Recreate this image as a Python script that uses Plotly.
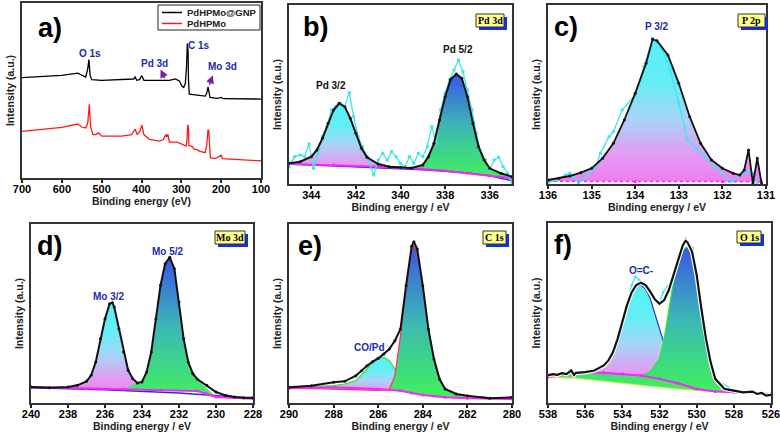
import plotly.graph_objects as go

W, H = 780, 437

# ---------------- a) survey spectra ----------------
survey_be_gnp = [700, 650, 600, 560, 550, 540, 535, 532, 529, 525, 500, 450, 420, 416, 412, 405, 399, 394,
                 360, 330, 315, 305, 298, 294, 290, 287, 285, 283, 282, 280, 260, 240, 236, 233, 230, 228,
                 210, 200, 195, 150, 100]
survey_gnp = [305, 309, 312, 319, 312, 307, 332, 360, 312, 299, 297, 299, 301, 307, 297, 299, 311, 297,
              297, 297, 301, 295, 279, 275, 287, 337, 409, 387, 297, 255, 252, 249, 259, 277, 257, 245,
              242, 245, 241, 241, 240]
survey_be_pd = [700, 650, 600, 560, 550, 540, 535, 531, 528, 522, 515, 508, 500, 450, 425, 416, 411, 404,
                399, 394, 380, 355, 345, 339, 337, 334, 330, 310, 295, 288, 286, 284, 282, 281, 272, 268,
                262, 255, 240, 236, 233, 231, 229, 227, 215, 200, 197, 150, 100]
survey_pd = [142, 147, 154, 164, 155, 152, 167, 224, 157, 132, 132, 137, 127, 127, 132, 149, 132, 142,
             161, 132, 117, 112, 117, 132, 125, 133, 109, 109, 102, 97, 112, 162, 152, 99, 95, 87,
             87, 82, 77, 102, 147, 142, 97, 62, 59, 69, 59, 55, 52]
legend_names = ['PdHPMo@GNP', 'PdHPMo']

# ---------------- b) Pd 3d ----------------
pd_be_raw = [345.0, 344.75, 344.5, 344.3, 344.1, 343.9, 343.7, 343.5, 343.3, 343.1, 342.9, 342.7, 342.5,
             342.3, 342.1, 341.9, 341.7, 341.5, 341.2, 341.0, 340.8, 340.6, 340.4, 340.2, 340.0, 339.8,
             339.6, 339.4, 339.2, 339.0, 338.8, 338.6, 338.4, 338.2, 338.0, 337.8, 337.6, 337.4, 337.2,
             337.0, 336.8, 336.6, 336.4, 336.2, 336.0, 335.8, 335.6, 335.4, 335.2, 335.0]
pd_raw = [52, 82, 87, 82, 120, 47, 92, 142, 172, 222, 232, 242, 232, 274, 202, 142, 112, 82, 27, 72, 92,
          72, 97, 82, 62, 52, 82, 62, 92, 82, 112, 172, 122, 222, 272, 312, 342, 372, 337, 282, 222, 152,
          92, 72, 42, 72, 80, 52, 32, 2]
pd_be_env = [345.0, 344.5, 344.0, 343.75, 343.5, 343.25, 343.0, 342.75, 342.5, 342.25, 342.0, 341.75,
             341.5, 341.0, 340.5, 340.0, 339.5, 339.0, 338.75, 338.5, 338.25, 338.0, 337.75, 337.5,
             337.25, 337.0, 336.75, 336.5, 336.25, 336.0, 335.5, 335.0]
pd_env = [62, 67, 82, 102, 137, 182, 222, 242, 232, 197, 152, 107, 80, 60, 52, 50, 48, 57, 82, 122, 192,
          262, 314, 330, 317, 262, 182, 112, 72, 47, 32, 22]
pd_be_bg = [345, 343, 341, 339, 338, 337, 336, 335]
pd_bg = [60, 57, 52, 45, 40, 32, 24, 17]
pd_bg2 = [60, 55, 50, 43, 38, 33, 25, 10]
pd32_be = [345, 344.5, 344, 343.75, 343.5, 343.25, 343, 342.75, 342.5, 342.25, 342, 341.75, 341.5, 341,
           340.5, 340, 338, 335]
pd32 = [62, 67, 82, 102, 137, 182, 222, 242, 232, 197, 152, 107, 80, 60, 54, 52, 40, 17]
pd52_be = [345, 340, 339.5, 339, 338.75, 338.5, 338.25, 338, 337.75, 337.5, 337.25, 337, 336.75, 336.5,
           336.25, 336, 335.5, 335]
pd52 = [60, 51, 48, 57, 82, 122, 192, 262, 314, 330, 317, 262, 182, 112, 72, 47, 32, 22]

# ---------------- c) P 2p ----------------
p_be_raw = [136.0, 135.8, 135.6, 135.5, 135.4, 135.3, 135.1, 134.9, 134.8, 134.6, 134.5, 134.3, 134.0,
            133.8, 133.6, 133.4, 133.2, 133.0, 132.8, 132.6, 132.4, 132.2, 132.0, 131.8, 131.6, 131.4,
            131.3, 131.2]
p_raw = [4, 12, 27, 32, 22, 2, 27, 52, 92, 142, 157, 222, 267, 352, 437, 407, 342, 242, 132, 107, 82, 52,
         32, 7, 27, 37, 32, 4]
p_be_env = [136.0, 135.75, 135.5, 135.25, 135.0, 134.75, 134.5, 134.25, 134.0, 133.75, 133.6, 133.5,
            133.25, 133.0, 132.75, 132.5, 132.25, 132.0, 131.75, 131.6, 131.5, 131.4, 131.3, 131.2, 131.1]
p_env = [12, 17, 24, 34, 47, 77, 122, 192, 272, 362, 434, 430, 387, 302, 202, 122, 72, 47, 32, 27, 42,
         102, 2, 77, 0]
p_be_bg = [136, 134, 132, 131.1]
p_bg = [8, 7, 7, 7]

# ---------------- d) Mo 3d ----------------
mo_be_env = [240, 239, 238, 237.5, 237.0, 236.75, 236.5, 236.25, 236.0, 235.75, 235.6, 235.5, 235.25,
             235.0, 234.75, 234.5, 234.25, 234.0, 233.75, 233.5, 233.25, 233.0, 232.75, 232.5, 232.25,
             232.0, 231.75, 231.5, 231.25, 231.0, 230.5, 230.0, 229.5, 229.0, 228.5, 228.0]
mo_env = [48, 46, 48, 53, 65, 83, 123, 193, 253, 298, 301, 288, 223, 153, 98, 73, 60, 63, 93, 153, 253,
          353, 418, 437, 403, 303, 193, 123, 88, 71, 53, 33, 23, 18, 16, 16]
mo_be_bg = [240, 237, 235, 233, 231, 230.5, 230, 228]
mo_bg = [48, 43, 41, 38, 36, 28, 18, 13]
mo_be_bg2 = [240, 236, 232, 230, 228]
mo_bg2 = [46, 40, 30, 22, 14]
mo32_be = [240, 238, 237.5, 237, 236.75, 236.5, 236.25, 236, 235.75, 235.6, 235.5, 235.25, 235, 234.75,
           234.5, 234.25, 234, 233.5, 233, 232, 231, 230, 228]
mo32 = [48, 46, 52, 64, 82, 122, 192, 252, 297, 301, 288, 223, 150, 100, 75, 62, 55, 50, 47, 45, 42, 18, 13]
mo52_be = [240, 235, 234.5, 234.25, 234, 233.75, 233.5, 233.25, 233, 232.75, 232.5, 232.25, 232, 231.75,
           231.5, 231.25, 231, 230.5, 230, 228]
mo52 = [48, 41, 55, 60, 63, 93, 153, 253, 353, 418, 437, 403, 303, 193, 123, 88, 70, 45, 18, 13]

# ---------------- e) C 1s ----------------
c_be_env = [290, 289, 288, 287.5, 287.0, 286.75, 286.5, 286.25, 286.0, 285.75, 285.5, 285.25, 285.0,
            284.75, 284.5, 284.4, 284.25, 284.0, 283.75, 283.5, 283.25, 283.0, 282.5, 282.0, 281.0, 280.0]
c_env = [47, 52, 62, 65, 82, 97, 112, 124, 134, 147, 162, 187, 222, 352, 470, 484, 462, 352, 222, 132, 72,
         42, 27, 22, 14, 17]
c_be_bg = [290, 288, 286, 285, 284.5, 284, 283, 282, 280]
c_bg = [44, 47, 42, 37, 30, 24, 17, 14, 12]
copd_be = [290, 288, 287.5, 287, 286.5, 286.25, 286, 285.75, 285.5, 285.25, 285, 284.75, 284.5, 284, 283.5,
           282, 280]
copd = [47, 52, 57, 67, 102, 124, 134, 137, 127, 102, 77, 57, 42, 32, 27, 20, 12]
cc_be = [290, 286, 285.5, 285.25, 285, 284.75, 284.5, 284.4, 284.25, 284, 283.75, 283.5, 283.25, 283,
         282.5, 282, 280]
cc = [45, 38, 40, 82, 202, 342, 457, 474, 452, 347, 222, 132, 72, 42, 27, 20, 12]

# ---------------- f) O 1s ----------------
o_be_env = [538.0, 537.75, 537.5, 537.25, 537.0, 536.75, 536.6, 536.5, 536.0, 535.5, 535.0, 534.75, 534.5,
            534.25, 534.0, 533.75, 533.5, 533.25, 533.0, 532.75, 532.5, 532.25, 532.0, 531.75, 531.5,
            531.25, 531.0, 530.75, 530.6, 530.5, 530.25, 530.0, 529.75, 529.5, 529.25, 529.0, 528.5,
            528.0, 527.5, 527.0, 526.75, 526.5, 526.25, 526.0]
o_env = [82, 86, 84, 89, 86, 97, 84, 90, 92, 97, 112, 127, 152, 192, 242, 292, 330, 352, 359, 352, 332,
         309, 296, 307, 337, 382, 432, 470, 484, 480, 452, 382, 282, 192, 122, 72, 42, 37, 32, 34, 27, 30,
         22, 24]
o_be_raw = [538.0, 537.0, 536.0, 535.0, 534.5, 534.0, 533.75, 533.5, 533.3, 533.1, 532.9, 532.6, 532.3,
            532.0, 531.8, 531.6, 531.4, 531.2, 531.0, 530.8, 530.6, 530.4, 530.2, 530.0, 529.75, 529.5,
            529.0, 528.0, 527.0, 526.0]
o_raw = [82, 86, 92, 112, 152, 245, 300, 352, 377, 367, 360, 330, 310, 300, 330, 348, 356, 380, 437, 470,
         492, 478, 462, 392, 282, 192, 72, 37, 34, 24]
o_be_bg = [538, 536.5, 535, 534, 533, 532, 531, 530, 529, 528, 526]
o_bg = [77, 90, 90, 87, 82, 72, 59, 42, 34, 32, 27]
o_be_bg2 = [538, 536.5, 532, 530, 526]
o_bg2 = [76, 74, 47, 37, 27]
ooc_be = [538, 536.5, 536, 535.5, 535, 534.5, 534, 533.5, 533.25, 533, 532.75, 532.5, 532, 531.5, 531,
          530.5, 530, 529, 528, 526]
ooc = [80, 90, 94, 100, 112, 147, 237, 324, 347, 352, 340, 312, 222, 132, 82, 57, 47, 37, 32, 27]
omain_be = [538, 536.5, 535, 534, 533, 532.5, 532, 531.75, 531.5, 531.25, 531, 530.75, 530.5, 530.25, 530,
            529.75, 529.5, 529.25, 529, 528.5, 528, 526]
omain = [77, 89, 89, 86, 82, 92, 132, 192, 282, 362, 417, 457, 467, 442, 372, 277, 187, 117, 72, 42, 34, 27]

# ---------------- styling ----------------
CYAN = '#3fe6ee'
MAG = '#ff22ff'
BLUE_LN = '#2233cc'
LBL_BLUE = '#1c2ab0'
GRAD_CM = [[0, '#f27af0'], [0.2, '#e49af2'], [0.45, '#a8d4f6'], [0.7, '#64eef6'], [1, '#55f0f6']]
GRAD_BG = [[0, '#3ff25a'], [0.5, '#3cb8b4'], [1, '#3a55e6']]

fig = go.Figure()


def ref(i):
    return ('x', 'y') if i == 1 else (f'x{i}', f'y{i}')


def add(i, x, y, color, width=1.5, dash=None, mode='lines', msize=3, fill=None, grad=None,
        symbol='circle'):
    xa, ya = ref(i)
    kw = {}
    if fill:
        kw['fill'] = fill
    if grad:
        kw['fillgradient'] = dict(type='vertical', colorscale=grad)
    fig.add_trace(go.Scatter(x=x, y=y, xaxis=xa, yaxis=ya, mode=mode, showlegend=False,
                             line=dict(color=color, width=width, dash=dash),
                             marker=dict(size=msize, color=color, symbol=symbol),
                             hoverinfo='skip', **kw))


def peak(i, bx, by, px, py, grad, edge):
    add(i, bx, by, 'rgba(0,0,0,0)', width=0)
    add(i, px, py, edge, width=1.2, fill='tonexty', grad=grad)


# a) survey
add(1, survey_be_gnp, survey_gnp, 'black', 1.3)
add(1, survey_be_pd, survey_pd, '#ff1a1a', 1.3)

# b) Pd 3d
peak(2, pd_be_bg, pd_bg, pd32_be, pd32, GRAD_CM, 'rgba(0,0,0,0)')
peak(2, pd_be_bg, pd_bg, pd52_be, pd52, GRAD_BG, 'rgba(0,0,0,0)')
add(2, pd_be_bg, pd_bg2, BLUE_LN, 1.5)
add(2, pd_be_bg, pd_bg, MAG, 2, mode='lines+markers', msize=3)
add(2, pd_be_raw, pd_raw, CYAN, 1.3, mode='lines+markers', msize=3, symbol='square')
add(2, pd_be_env, pd_env, '#111111', 2, mode='lines+markers', msize=3)

# c) P 2p
peak(3, p_be_bg, p_bg, p_be_env, p_env, GRAD_CM, 'rgba(0,0,0,0)')
add(3, p_be_bg, p_bg, MAG, 1.5, dash='dot', mode='lines+markers', msize=3)
add(3, p_be_raw, p_raw, CYAN, 1.3, mode='lines+markers', msize=3, symbol='square')
add(3, p_be_env, p_env, '#111111', 1.8, mode='lines+markers', msize=3)

# d) Mo 3d
peak(4, mo_be_bg, mo_bg, mo32_be, mo32, GRAD_CM, 'rgba(0,0,0,0)')
peak(4, mo_be_bg, mo_bg, mo52_be, mo52, GRAD_BG, 'rgba(0,0,0,0)')
add(4, mo_be_bg2, mo_bg2, BLUE_LN, 1.5)
add(4, mo_be_bg, mo_bg, MAG, 2, mode='lines+markers', msize=3)
add(4, mo_be_env, mo_env, '#111111', 2, mode='lines+markers', msize=3)

# e) C 1s
peak(5, c_be_bg, c_bg, copd_be, copd, GRAD_CM, '#22e83a')
peak(5, c_be_bg, c_bg, cc_be, cc, GRAD_BG, '#ff3355')
add(5, c_be_bg, c_bg, MAG, 2, mode='lines+markers', msize=3)
add(5, c_be_env, c_env, '#111111', 2, mode='lines+markers', msize=3)

# f) O 1s
peak(6, o_be_bg, o_bg, ooc_be, ooc, GRAD_CM, BLUE_LN)
peak(6, o_be_bg2, o_bg2, omain_be, omain, GRAD_BG, '#22ee33')
add(6, o_be_bg2, o_bg2, '#e0e850', 1)
add(6, o_be_bg, o_bg, MAG, 2, mode='lines+markers', msize=3)
add(6, o_be_raw, o_raw, CYAN, 1.3, mode='lines+markers', msize=2, symbol='square')
add(6, o_be_env, o_env, 'white', 4.5)
add(6, o_be_env, o_env, '#111111', 2.2)

# ---------------- axes ----------------
# panel boxes in pixels: left, top, right, bottom
boxes = {1: (22, 3, 261, 178), 2: (289, 5, 512, 184), 3: (548, 5, 766, 184),
         4: (31, 224, 253, 403), 5: (289, 224, 512, 403), 6: (548, 223, 771, 403)}
xranges = {1: [700, 100], 2: [345, 335], 3: [136, 131], 4: [240, 228], 5: [290, 280], 6: [538, 526]}
xticks = {1: [700, 600, 500, 400, 300, 200, 100], 2: [344, 342, 340, 338, 336],
          3: [136, 135, 134, 133, 132, 131], 4: [240, 238, 236, 234, 232, 230, 228],
          5: [290, 288, 286, 284, 282, 280], 6: [538, 536, 534, 532, 530, 528, 526]}
yranges = {1: [0, 532], 2: [0, 537], 3: [0, 537], 4: [0, 537], 5: [0, 537], 6: [0, 537]}

tickfont = dict(family='Liberation Sans, Arial', size=11, color='black', weight='bold')
titlefont = dict(family='Liberation Sans, Arial', size=10.5, color='#222', weight='bold')
layout = {}
for i, (l, t, r, b) in boxes.items():
    xa, ya = ref(i)
    xk = 'xaxis' if i == 1 else f'xaxis{i}'
    yk = 'yaxis' if i == 1 else f'yaxis{i}'
    xt = 'Binding energy (eV)' if i == 1 else 'Binding energy / eV'
    layout[xk] = dict(domain=[l / W, r / W], range=xranges[i], anchor=ya, tickvals=xticks[i],
                      ticks='outside', ticklen=3, tickwidth=1.5, tickcolor='#222', ticklabelstandoff=-3,
                      ticklabeloverflow='allow',
                      showline=True, linecolor='#333', linewidth=1.5, mirror=True,
                      showgrid=False, zeroline=False, tickfont=tickfont, automargin=False,
                      title=dict(text=xt, font=titlefont, standoff=3))
    layout[yk] = dict(domain=[1 - b / H, 1 - t / H], range=yranges[i], anchor=xa,
                      showticklabels=False, ticks='', showline=True, linecolor='#333',
                      linewidth=1.5, mirror=True, showgrid=False, zeroline=False, automargin=False,
                      title=dict(text='Intensity (a.u.)', font=titlefont, standoff=4))

fig.update_layout(**layout)

ann = []
shapes = []


def px(x):
    return x / W


def py(y):
    return 1 - y / H


# panel letters
letters = {'a)': (50, 28), 'b)': (315, 27), 'c)': (566, 27), 'd)': (49, 246), 'e)': (310, 246), 'f)': (563, 245)}
for txt, (lx, ly) in letters.items():
    ann.append(dict(text=txt, xref='paper', yref='paper', x=px(lx), y=py(ly), showarrow=False,
                    xanchor='center', yanchor='middle',
                    font=dict(family='Liberation Sans, Arial', size=27, color='black', weight='bold')))

# legend box of panel a
shapes.append(dict(type='rect', xref='paper', yref='paper', x0=px(158), x1=px(260), y0=py(30), y1=py(5),
                   fillcolor='white', line=dict(color='#222', width=1)))
for k, (name, col) in enumerate(zip(legend_names, ['black', '#ff1a1a'])):
    yy = 12.5 + 11 * k
    shapes.append(dict(type='line', xref='paper', yref='paper', x0=px(162), x1=px(182), y0=py(yy), y1=py(yy),
                       line=dict(color=col, width=1.5)))
    ann.append(dict(text=name, xref='paper', yref='paper', x=px(185), y=py(yy), showarrow=False,
                    xanchor='left', yanchor='middle',
                    font=dict(family='Liberation Sans, Arial', size=9.5, color='#222', weight='bold')))

# badges with blue shadow
badges = {'Pd 3d': (476, 14, 504, 27), 'P 2p': (738, 14, 765, 27), 'Mo 3d': (215, 231, 245, 244),
          'C 1s': (483, 231, 506, 244), 'O 1s': (737, 231, 761, 243)}
for txt, (l, t, r, b) in badges.items():
    shapes.append(dict(type='rect', xref='paper', yref='paper', x0=px(l + 3), x1=px(r + 3),
                       y0=py(b + 3), y1=py(t + 3), fillcolor='#1030e8', line=dict(width=0)))
    shapes.append(dict(type='rect', xref='paper', yref='paper', x0=px(l), x1=px(r),
                       y0=py(b), y1=py(t), fillcolor='#ffff8c', line=dict(color='#333', width=1)))
    ann.append(dict(text=txt, xref='paper', yref='paper', x=px((l + r) / 2), y=py((t + b) / 2),
                    showarrow=False, xanchor='center', yanchor='middle',
                    font=dict(family='Liberation Serif, Times New Roman', size=10, color='black', weight='bold')))

# peak labels
lblfont = dict(family='Liberation Sans, Arial', size=10, color=LBL_BLUE, weight='bold')
blkfont = dict(family='Liberation Sans, Arial', size=10, color='#111', weight='bold')
labels = [(1, 'O 1s', 530, 377, lblfont), (1, 'Pd 3d', 367, 349, lblfont), (1, 'C 1s', 256, 402, lblfont),
          (1, 'Mo 3d', 196, 339, lblfont),
          (2, 'Pd 3/2', 343.1, 294, blkfont), (2, 'Pd 5/2', 337.4, 404, blkfont),
          (3, 'P 3/2', 133.5, 472, lblfont),
          (4, 'Mo 3/2', 235.8, 321, lblfont), (4, 'Mo 5/2', 232.6, 456, lblfont),
          (5, 'CO/Pd', 286.4, 167, lblfont), (6, 'O=C-', 533.0, 394, lblfont)]
for i, txt, x, y, f in labels:
    xa, ya = ref(i)
    ann.append(dict(text=txt, xref=xa, yref=ya, x=x, y=y, showarrow=False, font=f))

# purple arrows in survey panel
for hx, hy, tx, ty in [(352, 330, 340, 299), (221, 312, 231, 279)]:
    ann.append(dict(text='', xref='x', yref='y', axref='x', ayref='y', x=hx, y=hy, ax=tx, ay=ty,
                    showarrow=True, arrowhead=2, arrowsize=1, arrowwidth=1.6, arrowcolor='#7b1fa2'))

fig.update_layout(
    width=W, height=H, margin=dict(l=0, r=0, t=0, b=0),
    paper_bgcolor='white', plot_bgcolor='white',
    annotations=ann, shapes=shapes, showlegend=False,
)

fig.write_html('out.html', config={'displayModeBar': False},
               post_script="document.body.style.margin='0px';")
